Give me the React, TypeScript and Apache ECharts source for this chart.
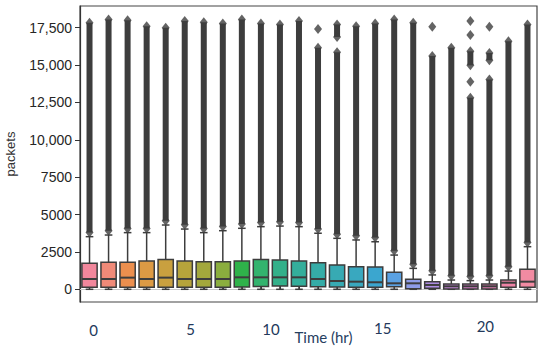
import React, { useEffect, useRef } from "react";
import * as echarts from "echarts";

const hours = ["0","1","2","3","4","5","6","7","8","9","10","11","12","13","14","15","16","17","18","19","20","21","22","23"];
const whiskerLow = [0,0,0,0,0,0,0,0,0,0,0,0,0,0,0,0,0,0,0,0,0,0,0,0];
const q1 = [134,134,134,134,134,134,134,134,150,180,220,200,170,150,140,130,175,30,70,20,20,20,134,134];
const median = [690,690,780,690,780,690,690,690,800,800,800,800,690,555,510,470,400,400,290,200,200,200,440,510];
const q3 = [1740,1806,1806,1890,2000,1890,1850,1850,1890,2000,1960,1890,1780,1625,1510,1490,1140,670,510,355,355,355,620,1340];
const whiskerHigh = [3520,3630,3790,3790,4300,4030,3790,3920,4080,4190,4230,4190,3750,3410,3300,3180,2290,1400,960,620,580,620,1220,2850];
// dense outlier columns (lowest and highest flier of each column)
const outlierLow = [3800,3910,4070,4070,4580,4310,4070,4200,4360,4470,4510,4470,4030,3690,3580,3460,2570,1680,1240,900,860,900,1500,3130];
const outlierHigh = [17830,18050,18000,17600,17500,17940,17870,17780,18050,17780,17720,17940,16160,15850,17600,17780,18050,17830,15600,16160,12810,14040,16600,17720];
// extra detached dense clusters [hour, low, high]
const outlierClusters = [[13,16880,17720],[20,14980,15920],[21,15320,15810]];
// isolated fliers [hour, value]
const isolatedFliers = [[12,17410],[18,17570],[20,17950],[20,17010],[20,13890],[21,17570]];
const yTicks = [0,2500,5000,7500,10000,12500,15000,17500];
const boxColors = ["#f2879c","#f08a78","#ec8f4e","#dc9a44","#c9a03f","#b6a43b","#a3a83c","#8bae3e","#2fb24a","#33b36e","#33b08a","#34ae9b","#35aca7","#37aab3","#39a8bf","#3ba6cf","#5ba1e2","#8e9ce8","#b190e6","#c887dc","#d97fc9","#e67fb6","#ef83a6","#f28ba2"];

const DARK = "#3d3d3d";

export default function App() {
  const ref = useRef<HTMLDivElement>(null);
  useEffect(() => {
    if (!ref.current) return;
    const chart = echarts.init(ref.current, null, { renderer: "svg" });
    const boxData = hours.map((h, i) => [i, whiskerLow[i], q1[i], median[i], q3[i], whiskerHigh[i]]);
    const columnData: number[][] = hours.map((h, i) => [i, outlierLow[i], outlierHigh[i]]);
    outlierClusters.forEach((c) => columnData.push(c));
    const flierData: number[][] = [];
    columnData.forEach((c) => { flierData.push([c[0], c[1]]); flierData.push([c[0], c[2]]); });
    isolatedFliers.forEach((f) => flierData.push(f));

    const labelRich: Record<string, any> = {
      l0: { padding: [4, 0, 0, 8] },
      l5: { padding: [3, 0, 0, 12] },
      l10: { padding: [3, 18, 0, 0] },
      l15: { padding: [2, 0, 0, 15] },
      l20: { padding: [0, 0, 0, 30] },
    };

    chart.setOption({
      animation: false,
      grid: {
        left: 80, right: 13, top: 6, bottom: 48,
        outerBoundsMode: "none",
        containLabel: false,
        show: true, borderColor: "#444", borderWidth: 1.2, backgroundColor: "#fff",
      },
      xAxis: {
        type: "category",
        data: hours,
        offset: 8,
        name: "Time (hr)",
        nameLocation: "middle",
        nameGap: 19,
        nameMoveOverlap: false,
        nameTextStyle: { fontFamily: "Lato", fontSize: 15, color: "#26405f", padding: [0, 0, 0, 30] },
        axisLine: { show: true, lineStyle: { color: "#c8c8c8", width: 1 } },
        axisTick: { show: true, inside: true, length: 6, interval: 0, alignWithLabel: true, lineStyle: { color: "#333" } },
        axisLabel: {
          interval: 4,
          margin: 8,
          fontFamily: "Lato",
          fontSize: 15,
          color: "#23395b",
          formatter: (v: string) => `{l${v}|${v}}`,
          rich: labelRich,
        },
        splitLine: { show: false },
      },
      yAxis: {
        type: "value",
        min: -850,
        max: 18950,
        name: "packets",
        nameLocation: "middle",
        nameGap: 63,
        nameTextStyle: { fontFamily: "Liberation Sans", fontSize: 13, color: "#333" },
        axisLine: { show: true, lineStyle: { color: "#333", width: 1.2 } },
        axisTick: { show: true, length: 5, customValues: yTicks, lineStyle: { color: "#333" } },
        axisLabel: {
          customValues: yTicks,
          margin: 8,
          fontFamily: "Liberation Sans",
          fontSize: 14,
          color: "#262626",
          formatter: (v: number) => (v >= 10000 ? v.toLocaleString("en-US") : String(v)),
        },
        splitLine: { show: false },
      },
      series: [
        {
          type: "custom",
          name: "boxes",
          data: boxData,
          encode: { x: 0, y: [1, 2, 3, 4, 5] },
          renderItem: (params: any, api: any) => {
            const i = api.value(0);
            const w = api.size([1, 0])[0] * 0.8;
            const pLow = api.coord([i, api.value(1)]);
            const pQ1 = api.coord([i, api.value(2)]);
            const pMed = api.coord([i, api.value(3)]);
            const pQ3 = api.coord([i, api.value(4)]);
            const pHigh = api.coord([i, api.value(5)]);
            const x = pQ1[0];
            const line = { stroke: DARK, lineWidth: 1.5 };
            return {
              type: "group",
              children: [
                { type: "line", shape: { x1: x, y1: pLow[1], x2: x, y2: pQ1[1] }, style: line },
                { type: "line", shape: { x1: x, y1: pQ3[1], x2: x, y2: pHigh[1] }, style: line },
                { type: "line", shape: { x1: x - w / 4, y1: pLow[1], x2: x + w / 4, y2: pLow[1] }, style: line },
                { type: "line", shape: { x1: x - w / 4, y1: pHigh[1], x2: x + w / 4, y2: pHigh[1] }, style: line },
                { type: "rect", shape: { x: x - w / 2, y: pQ3[1], width: w, height: pQ1[1] - pQ3[1] }, style: { fill: boxColors[i], stroke: DARK, lineWidth: 1.5 } },
                { type: "line", shape: { x1: x - w / 2, y1: pMed[1], x2: x + w / 2, y2: pMed[1] }, style: { stroke: DARK, lineWidth: 2 } },
              ],
            };
          },
        },
        {
          type: "custom",
          name: "outlier columns",
          data: columnData,
          encode: { x: 0, y: [1, 2] },
          renderItem: (params: any, api: any) => {
            const i = api.value(0);
            const a = api.coord([i, api.value(1)]);
            const b = api.coord([i, api.value(2)]);
            return { type: "rect", shape: { x: a[0] - 3, y: b[1], width: 6, height: a[1] - b[1] }, style: { fill: DARK } };
          },
        },
        {
          type: "scatter",
          name: "fliers",
          data: flierData,
          symbol: "diamond",
          symbolSize: [8, 10],
          itemStyle: { color: DARK },
        },
      ],
    });
    return () => chart.dispose();
  }, []);
  return <div ref={ref} style={{ position: "absolute", left: 0, top: 0, width: 550, height: 350 }} />;
}
